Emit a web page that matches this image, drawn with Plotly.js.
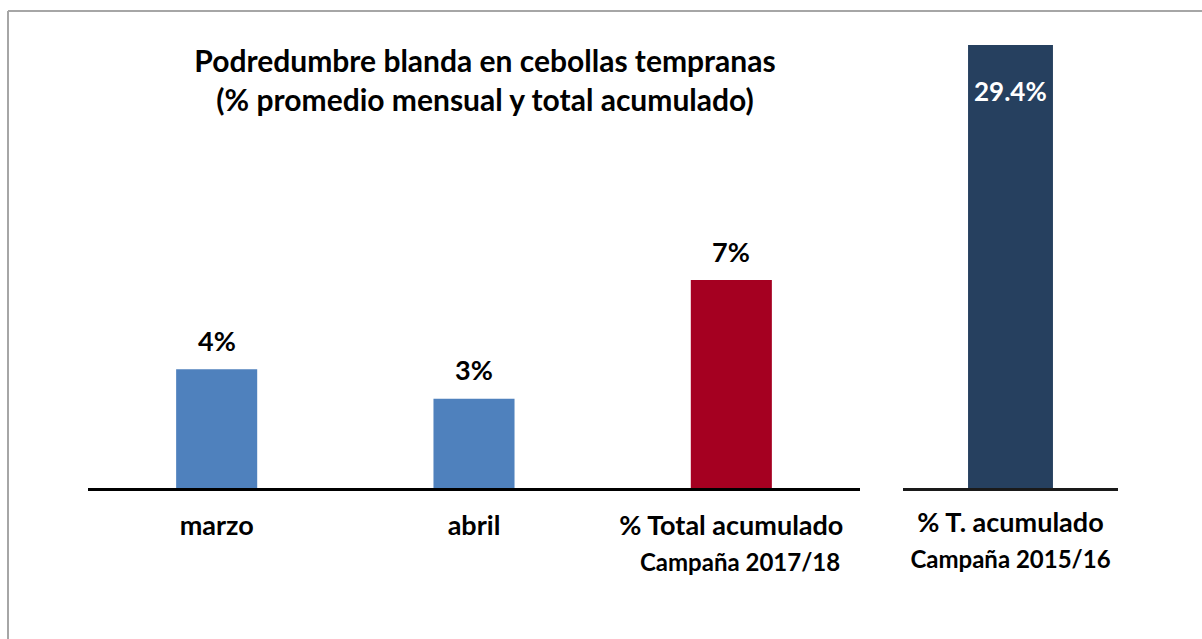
<!DOCTYPE html>
<html>
<head>
<meta charset="utf-8">
<script src="https://cdn.plot.ly/plotly-3.0.1.min.js"></script>
<style>html,body{margin:0;padding:0;background:#fff;}#chart{width:1202px;height:639px;}</style>
</head>
<body>
<div id="chart"></div>
<script>
// ---- data ----
const monthCategories = ["marzo", "abril", "total1718"];
const monthTickLabels = ["marzo", "abril", "% Total acumulado<br><span style=\"font-size:24px\">&nbsp;&nbsp;&nbsp;Campaña 2017/18</span>"];
const monthValues = [4, 3, 7];
const monthLabels = ["4%", "3%", "7%"];
const monthColors = ["#4F81BD", "#4F81BD", "#A50021"];

const prevCategories = ["total1516"];
const prevTickLabels = ["% T. acumulado<br><span style=\"font-size:24px\">Campaña 2015/16</span>"];
const prevValues = [29.4];
const prevLabels = ["29.4%"];
const prevColors = ["#26405F"];

const titleText = "Podredumbre blanda en cebollas tempranas<br>(% promedio mensual y total acumulado)";

const FONT = "Lato, 'Open Sans', sans-serif";
const W = 1202, H = 639;

const traces = [
  {type: "bar", x: monthCategories, y: monthValues, marker: {color: monthColors}, width: 0.315,
   xaxis: "x", yaxis: "y", hoverinfo: "skip"},
  {type: "bar", x: prevCategories, y: prevValues, marker: {color: prevColors}, width: 0.395,
   xaxis: "x2", yaxis: "y2", hoverinfo: "skip"}
];

const annotations = [];
monthCategories.forEach((c, i) => annotations.push({
  xref: "x", yref: "y", x: c, y: monthValues[i], yshift: 29, yanchor: "middle",
  text: "<b>" + monthLabels[i] + "</b>", showarrow: false,
  font: {family: FONT, size: 27, color: "#000"}
}));
prevCategories.forEach((c, i) => annotations.push({
  xref: "x2", yref: "y2", x: c, y: prevValues[i], yshift: -46, yanchor: "middle",
  text: "<b>" + prevLabels[i] + "</b>", showarrow: false,
  font: {family: FONT, size: 26, color: "#fff"}
}));

const yDom = [1 - 488 / H, 1 - 45 / H];
const tickFont = {family: FONT, size: 27, color: "#000", weight: "bold"};

const layout = {
  width: W, height: H,
  margin: {l: 0, r: 0, t: 0, b: 0},
  paper_bgcolor: "#fff", plot_bgcolor: "rgba(0,0,0,0)",
  showlegend: false,
  font: {family: FONT},
  title: {text: "<b>" + titleText + "</b>", font: {family: FONT, size: 30, color: "#000"},
          x: 485 / W, xanchor: "center", y: 1 - 72 / H, yanchor: "middle", yref: "container"},
  xaxis: {domain: [88 / W, 860 / W], type: "category", showline: true, linecolor: "#000", linewidth: 3,
          ticks: "", showgrid: false, zeroline: false, tickvals: monthCategories, ticktext: monthTickLabels,
          tickfont: tickFont, ticklabelstandoff: 12, fixedrange: true},
  yaxis: {domain: yDom, range: [0, 443 / 29.71], visible: false, fixedrange: true},
  xaxis2: {domain: [903 / W, 1118 / W], type: "category", anchor: "y2", showline: true, linecolor: "#1a1a1a", linewidth: 3,
           ticks: "", showgrid: false, zeroline: false, tickvals: prevCategories, ticktext: prevTickLabels,
           tickfont: tickFont, ticklabelstandoff: 9, fixedrange: true},
  yaxis2: {domain: yDom, range: [0, 29.4], visible: false, anchor: "x2", fixedrange: true},
  annotations: annotations,
  shapes: [
    {type: "line", xref: "paper", yref: "paper", x0: 8 / W, x1: 1.01, y0: 1 - 11 / H, y1: 1 - 11 / H,
     line: {color: "#A6A6A6", width: 2}},
    {type: "line", xref: "paper", yref: "paper", x0: 8 / W, x1: 8 / W, y0: 1 - 11 / H, y1: -0.01,
     line: {color: "#A6A6A6", width: 2}}
  ]
};

Plotly.newPlot("chart", traces, layout, {displayModeBar: false, staticPlot: true});
</script>
</body>
</html>
